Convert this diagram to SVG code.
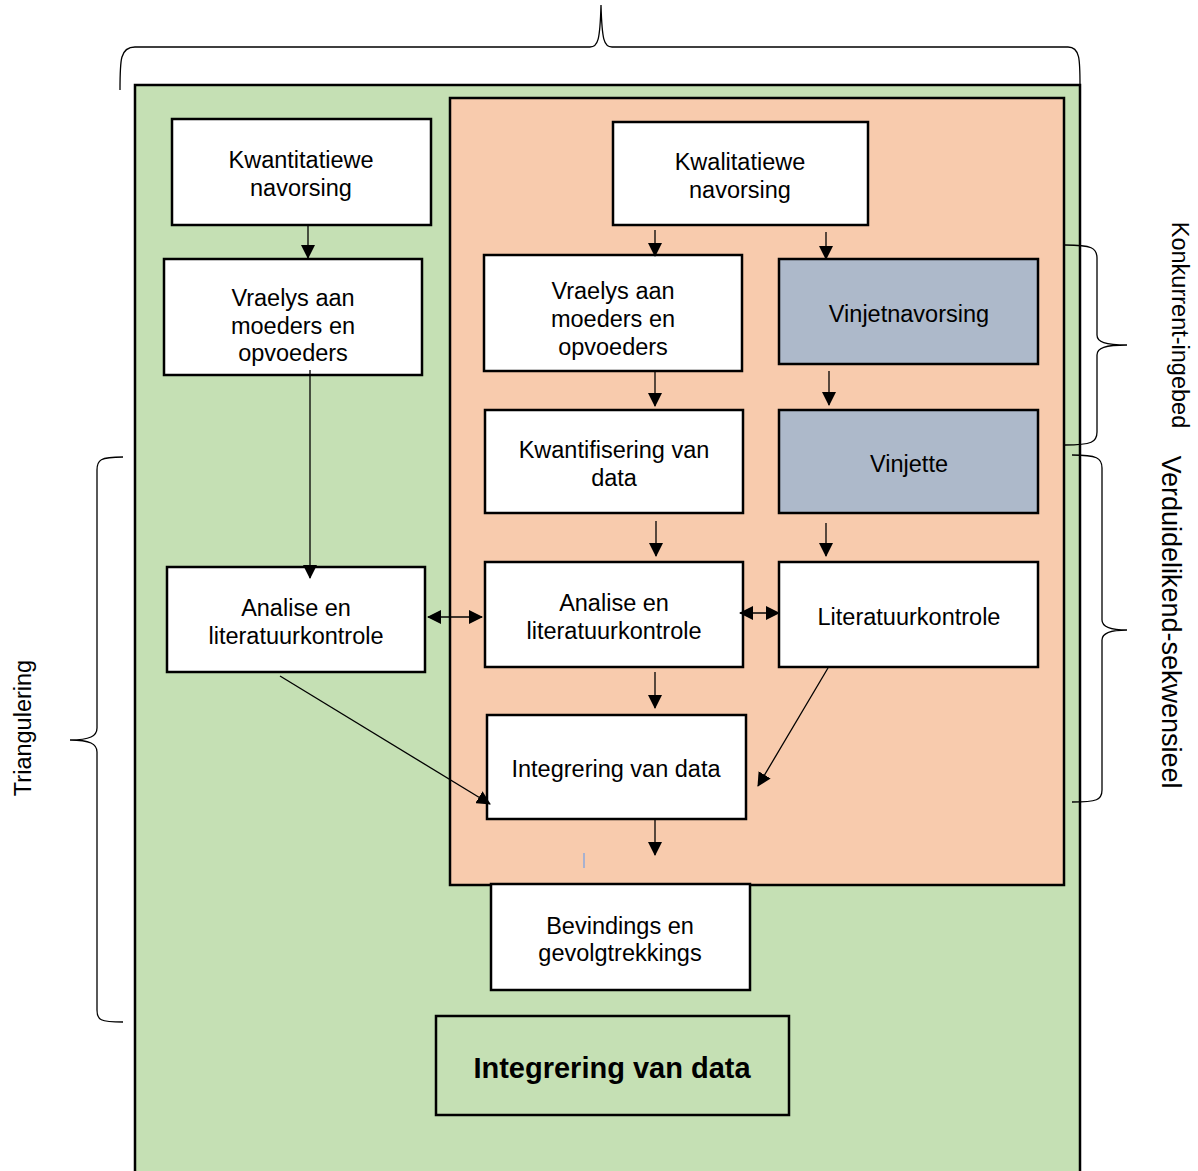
<svg xmlns="http://www.w3.org/2000/svg" width="1198" height="1171" viewBox="0 0 1198 1171">
<defs>
<style>
.box{fill:#fff;stroke:#000;stroke-width:2.5}
.grey{fill:#ADB9CA;stroke:#000;stroke-width:2.5}
.t{font-family:"Liberation Sans",Arial,sans-serif;font-size:23.5px;fill:#000;text-anchor:middle}
.b{font-family:"Liberation Sans",Arial,sans-serif;font-size:29px;font-weight:bold;fill:#000;text-anchor:middle}
.c{fill:none;stroke:#000;stroke-width:1.3}
.br{fill:none;stroke:#000;stroke-width:1.3}
</style>
<marker id="ah" viewBox="0 0 14 14" refX="13" refY="7" markerWidth="14" markerHeight="14" markerUnits="userSpaceOnUse" orient="auto-start-reverse">
<path d="M0,0 L14,7 L0,14 z" fill="#000"/>
</marker>
</defs>
<rect width="1198" height="1171" fill="#fff"/>
<g id="bg-green"><rect x="135" y="85" width="945" height="1100" fill="#C5E0B4" stroke="#000" stroke-width="2.5"/></g>
<g id="bg-orange"><rect x="450" y="98" width="614" height="787" fill="#F8CBAD" stroke="#000" stroke-width="2.5"/></g>

<g id="braces">
<path class="br" d="M120,90 C120,60 120,47 135,47 L590,47 C598,47 600,40 601,5 C602,40 604,47 612,47 L1068,47 C1080,47 1080,60 1080,85"/>
<path class="br" d="M123,457 C100,457 97,460 97,470 L97,728 C97,736 90,740 70,740 C90,740 97,744 97,752 L97,1010 C97,1020 100,1022 123,1022"/>
<path class="br" d="M1065,245 C1092,245 1097,248 1097,258 L1097,335 C1097,342 1105,345 1127,345 C1105,345 1097,348 1097,355 L1097,432 C1097,442 1092,445 1065,445"/>
<path class="br" d="M1072,455 C1097,455 1102,458 1102,468 L1102,620 C1102,627 1110,630 1127,630 C1110,630 1102,633 1102,640 L1102,790 C1102,800 1097,802 1072,802"/>
<text class="t" transform="translate(31,728) rotate(-90)">Triangulering</text>
<text class="t" transform="translate(1172,325) rotate(90)">Konkurrent-ingebed</text>
<text class="t" style="font-size:27px" transform="translate(1162,622) rotate(90)">Verduidelikend-sekwensieel</text>
</g>

<g id="n-kwant"><rect class="box" x="172" y="119" width="259" height="106"/><text class="t" x="301" y="168">Kwantitatiewe</text><text class="t" x="301" y="196">navorsing</text></g>
<g id="n-vraelys-l"><rect class="box" x="164" y="259" width="258" height="116"/><text class="t" x="293" y="306">Vraelys aan</text><text class="t" x="293" y="334">moeders en</text><text class="t" x="293" y="361">opvoeders</text></g>
<g id="n-analise-l"><rect class="box" x="167" y="567" width="258" height="105"/><text class="t" x="296" y="616">Analise en</text><text class="t" x="296" y="644">literatuurkontrole</text></g>
<g id="n-kwal"><rect class="box" x="613" y="122" width="255" height="103"/><text class="t" x="740" y="170">Kwalitatiewe</text><text class="t" x="740" y="198">navorsing</text></g>
<g id="n-vraelys-r"><rect class="box" x="484" y="255" width="258" height="116"/><text class="t" x="613" y="299">Vraelys aan</text><text class="t" x="613" y="327">moeders en</text><text class="t" x="613" y="355">opvoeders</text></g>
<g id="n-vinjetnav"><rect class="grey" x="779" y="259" width="259" height="105"/><text class="t" x="909" y="322">Vinjetnavorsing</text></g>
<g id="n-kwantif"><rect class="box" x="485" y="410" width="258" height="103"/><text class="t" x="614" y="458">Kwantifisering van</text><text class="t" x="614" y="486">data</text></g>
<g id="n-vinjette"><rect class="grey" x="779" y="410" width="259" height="103"/><text class="t" x="909" y="472">Vinjette</text></g>
<g id="n-analise-m"><rect class="box" x="485" y="562" width="258" height="105"/><text class="t" x="614" y="611">Analise en</text><text class="t" x="614" y="639">literatuurkontrole</text></g>
<g id="n-litkontrole"><rect class="box" x="779" y="562" width="259" height="105"/><text class="t" x="909" y="625">Literatuurkontrole</text></g>
<g id="n-integ-in"><rect class="box" x="487" y="715" width="259" height="104"/><text class="t" x="616" y="777">Integrering van data</text></g>
<g id="n-bevind"><rect class="box" x="491" y="884" width="259" height="106"/><text class="t" x="620" y="934">Bevindings en</text><text class="t" x="620" y="961">gevolgtrekkings</text></g>
<g id="n-integ-out"><rect x="436" y="1016" width="353" height="99" fill="#C5E0B4" stroke="#000" stroke-width="2.5"/><text class="b" x="612" y="1078">Integrering van data</text></g>

<g id="connectors">
<line class="c" x1="308" y1="226" x2="308" y2="258" marker-end="url(#ah)"/>
<line class="c" x1="310" y1="370" x2="310" y2="578" marker-end="url(#ah)"/>
<line class="c" x1="655" y1="230" x2="655" y2="256" marker-end="url(#ah)"/>
<line class="c" x1="826" y1="232" x2="826" y2="259" marker-end="url(#ah)"/>
<line class="c" x1="655" y1="372" x2="655" y2="406" marker-end="url(#ah)"/>
<line class="c" x1="829" y1="371" x2="829" y2="405" marker-end="url(#ah)"/>
<line class="c" x1="656" y1="521" x2="656" y2="556" marker-end="url(#ah)"/>
<line class="c" x1="826" y1="523" x2="826" y2="556" marker-end="url(#ah)"/>
<line class="c" x1="655" y1="672" x2="655" y2="708" marker-end="url(#ah)"/>
<line class="c" x1="655" y1="820" x2="655" y2="855" marker-end="url(#ah)"/>
<line class="c" x1="428" y1="617" x2="482" y2="617" marker-start="url(#ah)" marker-end="url(#ah)"/>
<line class="c" x1="740" y1="613" x2="779" y2="613" marker-start="url(#ah)" marker-end="url(#ah)"/>
<line class="c" x1="280" y1="676" x2="490" y2="804" marker-end="url(#ah)"/>
<line class="c" x1="828" y1="668" x2="758" y2="786" marker-end="url(#ah)"/>
<line x1="584" y1="853" x2="584" y2="868" stroke="#8EA9DB" stroke-width="1.5"/>
</g>
</svg>
